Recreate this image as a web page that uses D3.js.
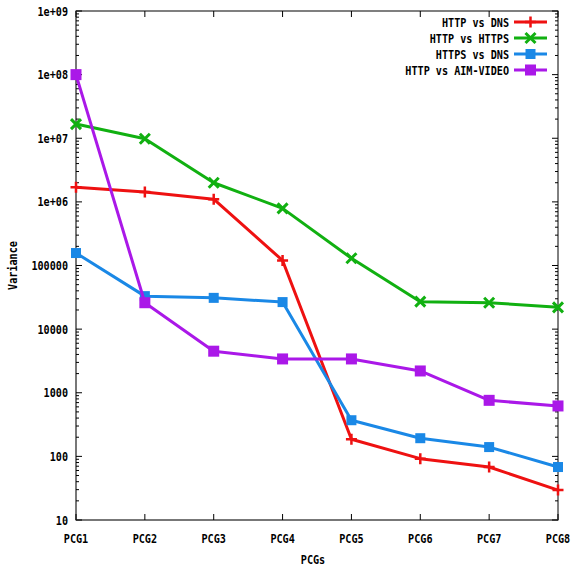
<!DOCTYPE html>
<html>
<head>
<meta charset="utf-8">
<script src="https://cdn.jsdelivr.net/npm/d3@7"></script>
<style>
  html, body { margin: 0; padding: 0; background: #fff; }
  svg text { font-family: "DejaVu Sans Mono", "Liberation Mono", monospace; font-weight: bold; font-size: 13px; fill: #000; }
</style>
</head>
<body>
<svg id="chart" width="571" height="570"></svg>
<script>
// Categories along the x axis
const categories = ["PCG1", "PCG2", "PCG3", "PCG4", "PCG5", "PCG6", "PCG7", "PCG8"];

// Variance per PCG for each protocol pair
const httpVsDns      = [1.7e6, 1.43e6, 1.1e6, 1.2e5, 186, 92, 68, 29.5];
const httpVsHttps    = [1.67e7, 9.8e6, 2.0e6, 7.9e5, 1.3e5, 2.7e4, 2.6e4, 2.2e4];
const httpsVsDns     = [1.57e5, 3.3e4, 3.1e4, 2.66e4, 370, 193, 140, 68];
const httpVsAimVideo = [1.0e8, 2.6e4, 4500, 3400, 3400, 2200, 760, 620];

const seriesNames  = ["HTTP vs DNS", "HTTP vs HTTPS", "HTTPS vs DNS", "HTTP vs AIM-VIDEO"];
const seriesValues = [httpVsDns, httpVsHttps, httpsVsDns, httpVsAimVideo];
const seriesColors = ["#ee1111", "#11b011", "#1a88e6", "#aa18e8"];
const seriesMarks  = ["plus", "cross", "square", "square"];

// Y axis tick labels (gnuplot style exponent formatting)
const yTickValues = [10, 100, 1000, 10000, 100000, 1e6, 1e7, 1e8, 1e9];
const yTickLabels = ["10", "100", "1000", "10000", "100000", "1e+06", "1e+07", "1e+08", "1e+09"];

const svg = d3.select("#chart");
const plotLeft = 76, plotRight = 558, plotTop = 11, plotBottom = 520;
const squeeze = 0.78; // narrow, tall terminal-style lettering

const x = d3.scalePoint().domain(categories).range([plotLeft, plotRight]);
const y = d3.scaleLog().domain([10, 1e9]).range([plotBottom, plotTop]);

function label(parent, px, py, txt, anchor, rot) {
  return parent.append("text")
    .attr("transform", `translate(${px},${py}) rotate(${rot || 0}) scale(${squeeze},1)`)
    .attr("text-anchor", anchor)
    .text(txt);
}

// Frame
svg.append("rect")
  .attr("x", plotLeft).attr("y", plotTop)
  .attr("width", plotRight - plotLeft).attr("height", plotBottom - plotTop)
  .attr("fill", "none").attr("stroke", "#000").attr("stroke-width", 1);
svg.append("line")
  .attr("x1", plotLeft).attr("x2", plotLeft).attr("y1", plotTop).attr("y2", plotBottom)
  .attr("stroke", "#777").attr("stroke-width", 2);
svg.append("line")
  .attr("x1", plotLeft).attr("x2", plotRight).attr("y1", plotBottom).attr("y2", plotBottom)
  .attr("stroke", "#777").attr("stroke-width", 2);

// Major and minor y ticks, mirrored on both sides, pointing inward
const ticks = svg.append("g").attr("stroke", "#000").attr("stroke-width", 1);
yTickValues.forEach(v => {
  [[plotLeft, plotLeft + 6], [plotRight, plotRight - 6]].forEach(([a, b]) =>
    ticks.append("line").attr("x1", a).attr("x2", b).attr("y1", y(v)).attr("y2", y(v)));
});
yTickValues.slice(0, -1).forEach(v => {
  for (let k = 2; k <= 9; k++) {
    const yy = y(v * k);
    [[plotLeft, plotLeft + 3], [plotRight, plotRight - 3]].forEach(([a, b]) =>
      ticks.append("line").attr("x1", a).attr("x2", b).attr("y1", yy).attr("y2", yy));
  }
});
categories.forEach(c => {
  ticks.append("line").attr("x1", x(c)).attr("x2", x(c)).attr("y1", plotBottom).attr("y2", plotBottom - 6);
  ticks.append("line").attr("x1", x(c)).attr("x2", x(c)).attr("y1", plotTop).attr("y2", plotTop + 6);
});

// Y tick labels
const yLabels = svg.append("g");
yTickValues.forEach((v, i) => label(yLabels, plotLeft - 8, y(v) + 4.5, yTickLabels[i], "end"));

// X tick labels
const xLabels = svg.append("g");
categories.forEach(c => label(xLabels, x(c), plotBottom + 23, c, "middle"));

// Axis titles
label(svg, (plotLeft + plotRight) / 2 - 4, 564, "PCGs", "middle");
label(svg, 17, (plotTop + plotBottom) / 2, "Variance", "middle", -90);

// Marker drawing
function drawMark(g, kind, cx, cy, color, size) {
  const h = size / 2;
  if (kind === "plus") {
    g.append("path").attr("d", `M${cx - h},${cy}H${cx + h}M${cx},${cy - h}V${cy + h}`)
      .attr("stroke", color).attr("stroke-width", 2.5).attr("fill", "none");
  } else if (kind === "cross") {
    g.append("path").attr("d", `M${cx - h},${cy - h}L${cx + h},${cy + h}M${cx - h},${cy + h}L${cx + h},${cy - h}`)
      .attr("stroke", color).attr("stroke-width", 3).attr("fill", "none");
  } else {
    g.append("rect").attr("x", cx - h).attr("y", cy - h).attr("width", size).attr("height", size)
      .attr("fill", color);
  }
}

const line = d3.line().x((d, i) => x(categories[i])).y(d => y(d));
const sizes = [11, 10, 10, 11];

seriesValues.forEach((vals, s) => {
  const g = svg.append("g");
  g.append("path").datum(vals).attr("d", line)
    .attr("fill", "none").attr("stroke", seriesColors[s]).attr("stroke-width", 3)
    .attr("stroke-linejoin", "round");
  vals.forEach((v, i) => drawMark(g, seriesMarks[s], x(categories[i]), y(v), seriesColors[s], sizes[s]));
});

// Legend
const legendY = [22, 38, 54, 70];
const legend = svg.append("g");
seriesNames.forEach((name, s) => {
  label(legend, 509, legendY[s] + 4.5, name, "end");
  legend.append("line").attr("x1", 514).attr("x2", 547).attr("y1", legendY[s]).attr("y2", legendY[s])
    .attr("stroke", seriesColors[s]).attr("stroke-width", 3);
  drawMark(legend, seriesMarks[s], 530.5, legendY[s], seriesColors[s], sizes[s]);
});
</script>
</body>
</html>
